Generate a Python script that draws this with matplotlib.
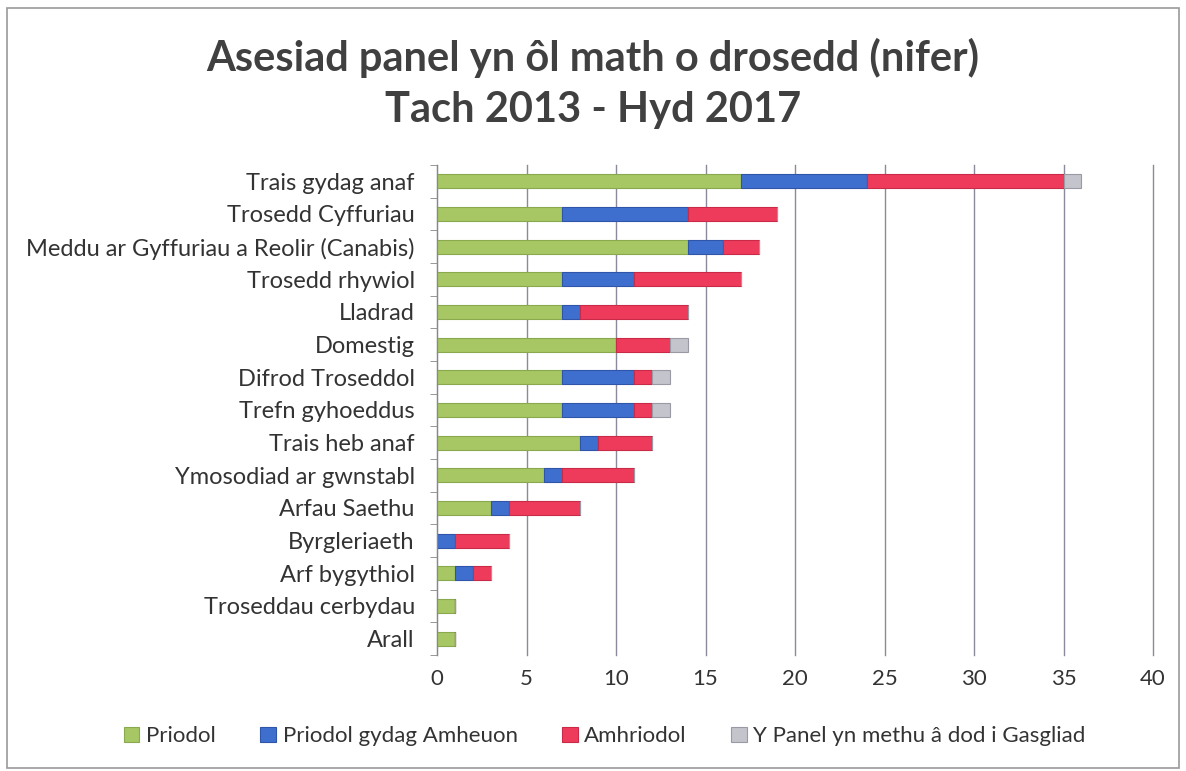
import matplotlib.pyplot as plt
import numpy as np
from matplotlib.patches import Rectangle

categories = ["Trais gydag anaf", "Trosedd Cyffuriau", "Meddu ar Gyffuriau a Reolir (Canabis)",
              "Trosedd rhywiol", "Lladrad", "Domestig", "Difrod Troseddol", "Trefn gyhoeddus",
              "Trais heb anaf", "Ymosodiad ar gwnstabl", "Arfau Saethu", "Byrgleriaeth",
              "Arf bygythiol", "Troseddau cerbydau", "Arall"]
priodol = [17, 7, 14, 7, 7, 10, 7, 7, 8, 6, 3, 0, 1, 1, 1]
priodol_amheuon = [7, 7, 2, 4, 1, 0, 4, 4, 1, 1, 1, 1, 1, 0, 0]
amhriodol = [11, 5, 2, 6, 6, 3, 1, 1, 3, 4, 4, 3, 1, 0, 0]
methu = [1, 0, 0, 0, 0, 1, 1, 1, 0, 0, 0, 0, 0, 0, 0]
series_names = ["Priodol", "Priodol gydag Amheuon", "Amhriodol", "Y Panel yn methu â dod i Gasgliad"]

plt.rcParams['font.family'] = ['Lato', 'DejaVu Sans']

fig = plt.figure(figsize=(11.86, 7.71), dpi=100)
fig.patches.append(Rectangle((0.006, 0.004), 0.988, 0.985, transform=fig.transFigure,
                             fill=False, edgecolor='#9a9a9a', linewidth=1.2))
ax = fig.add_axes([437/1186, 1 - 655/771, (1153-437)/1186, (655-165)/771])

colors = ['#a6c763', '#3f6fce', '#ee3b5c', '#c4c4cc']
edges = ['#8aa84d', '#2f55a8', '#c92a48', '#9a9aa4']
y = np.arange(len(categories))
left = np.zeros(len(categories))
for vals, c, e, name in zip([priodol, priodol_amheuon, amhriodol, methu], colors, edges, series_names):
    ax.barh(y, vals, left=left, height=0.42, color=c, edgecolor=e, linewidth=0.8, label=name)
    left += np.array(vals)

ax.set_ylim(len(categories) - 0.5, -0.5)
ax.set_xlim(0, 40)
ax.set_xticks(range(0, 41, 5))
ax.set_yticks(y)
ax.set_yticks(np.arange(-0.5, len(categories), 1), minor=True)
ax.set_yticklabels(categories, fontsize=17, color='#333333')
ax.tick_params(axis='x', labelsize=16, colors='#333333', length=0, pad=10)
ax.tick_params(axis='y', which='major', length=0, pad=16)
ax.tick_params(axis='y', which='minor', length=5, color='#888888')
ax.xaxis.grid(True, color='#8a8a9a', linewidth=1)
for gl in ax.get_xgridlines():
    gl.set_clip_on(False)
ax.set_axisbelow(True)
for s in ['top', 'right', 'bottom']:
    ax.spines[s].set_visible(False)
ax.spines['left'].set_color('#888888')

fig.text(0.5, 0.892, "Asesiad panel yn ôl math o drosedd (nifer)\nTach 2013 - Hyd 2017",
         ha='center', va='center', fontsize=30, fontweight='bold', color='#404040', linespacing=1.4)

fig.legend(loc='center', bbox_to_anchor=(0.51, 0.045), ncol=4, frameon=False, fontsize=16,
           handlelength=0.7, handleheight=0.7, columnspacing=2.0, handletextpad=0.3,
           labelcolor='#333333')

fig.savefig("out.png", dpi=100)
